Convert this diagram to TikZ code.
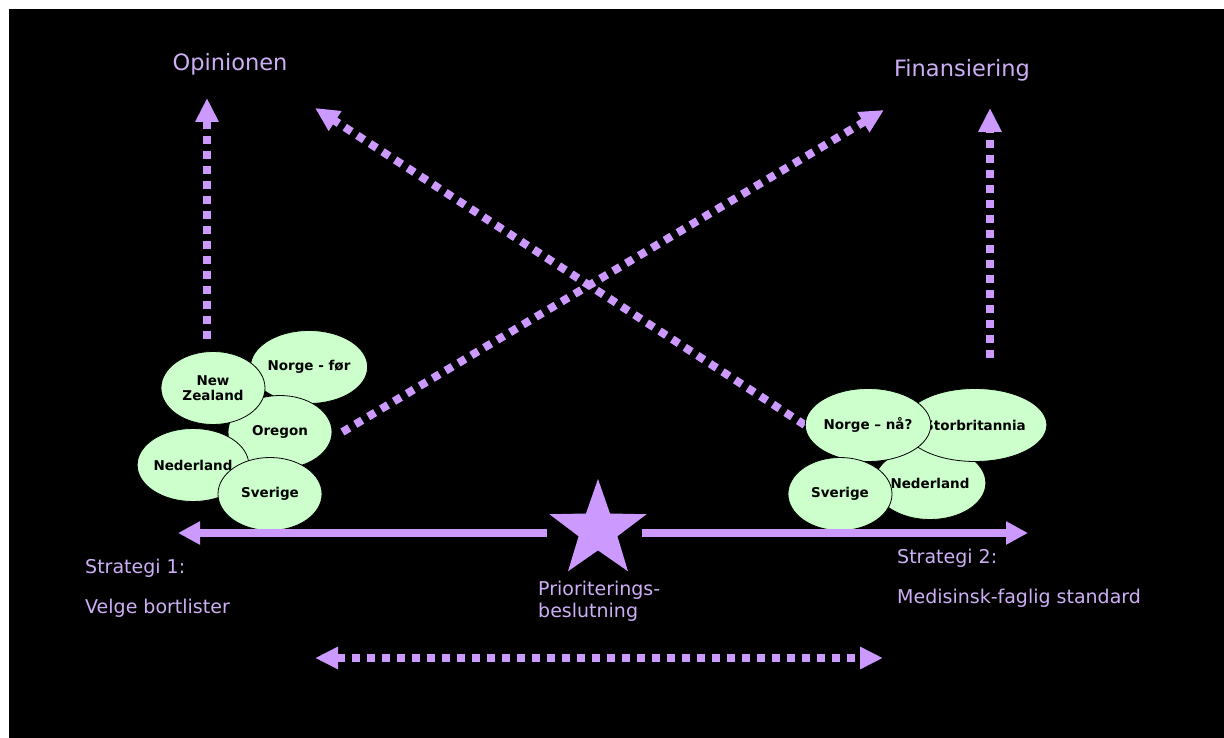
\documentclass[tikz,border=0pt]{standalone}
\usepackage{fontspec}
\setmainfont{DejaVu Sans}
\usetikzlibrary{shapes.geometric, arrows.meta, backgrounds}
\definecolor{starlilac}{RGB}{204,153,255}
\definecolor{textlilac}{RGB}{205,175,245}
\definecolor{blobgreen}{RGB}{204,255,204}

\begin{document}
\begin{tikzpicture}[x=1pt, y=-1pt,
  blob/.style={ellipse, draw=black, line width=0.8pt, fill=blobgreen, minimum width=104pt, minimum height=73pt, inner sep=0pt, align=center, font=\fontsize{13.5}{15}\selectfont\bfseries},
  lilactext/.style={text=textlilac, inner sep=0pt, font=\fontsize{19}{40}\selectfont},
  dotarrow/.style={draw=starlilac, line width=8pt, dash pattern=on 8pt off 7pt, -{Triangle[length=24pt, width=22pt]}},
  solidarrow/.style={draw=starlilac, line width=8pt, -{Triangle[length=22pt, width=22pt]}}]
\useasboundingbox (0,0) rectangle (1224,738);
\begin{scope}[on background layer]
\fill[white] (0,0) rectangle (1224,738);
\fill[black] (9,9) rectangle (1224,738);
\end{scope}

% Goals
\node[lilactext, font=\fontsize{22.5}{26}\selectfont] (opinion) at (230,64) {Opinionen};
\node[lilactext, font=\fontsize{22.5}{26}\selectfont] (finance) at (962,70) {Finansiering};

% Left cluster
\node[blob] (normbefore) at (309,367) {Norge - før};
\node[blob] (oregon) at (280,432) {Oregon};
\node[blob] (newzealand) at (213,388) {New\\Zealand};
\node[blob] (netherlandsA) at (193,465) {Nederland};
\node[blob] (swedenA) at (270,494) {Sverige};

% Right cluster
\node[blob] (netherlandsB) at (930,483) {Nederland};
\node[blob] (britain) at (975,425) {Storbritannia};
\node[blob] (normnow) at (868,425) {Norge – nå?};
\node[blob] (swedenB) at (840,494) {Sverige};

% Decision star
\node[star, star points=5, star point ratio=2.5, fill=starlilac, minimum size=102pt, inner sep=0pt] (star) at (598,530) {};
\node[lilactext, anchor=west, align=left, font=\fontsize{19}{22}\selectfont] (decision) at (538,601) {Prioriterings-\\beslutning};

% Strategies
\node[lilactext, anchor=west, align=left] (strat1) at (85,588) {Strategi 1:\\Velge bortlister};
\node[lilactext, anchor=west, align=left] (strat2) at (897,578) {Strategi 2:\\Medisinsk-faglig standard};

% Tips
\coordinate (opintip) at (207,98);
\coordinate (fintip) at (990,108);
\coordinate (crossleft) at (315,108);
\coordinate (crossright) at (884,110);
\coordinate (leftend) at (178,533);
\coordinate (rightend) at (1028,533);
\coordinate (bottomleft) at (315,658);
\coordinate (bottomright) at (883,658);

\begin{scope}[on background layer]
\draw[dotarrow] ([yshift=12pt]opintip |- newzealand.north) -- (opintip);
\draw[dotarrow] ([yshift=30pt]fintip |- britain.north) -- (fintip);
\draw[dotarrow] ([xshift=10pt]oregon.east) -- (crossright);
\draw[dotarrow] (normnow.west) -- (crossleft);
\end{scope}

% Axis
\draw[solidarrow] ([xshift=-51pt, yshift=-3pt]star.center) -- (leftend);
\draw[solidarrow] ([xshift=44pt, yshift=-3pt]star.center) -- (rightend);
\draw[dotarrow, {Triangle[length=23pt, width=21pt]}-{Triangle[length=23pt, width=21pt]}] (bottomleft) -- (bottomright);
\end{tikzpicture}
\end{document}
